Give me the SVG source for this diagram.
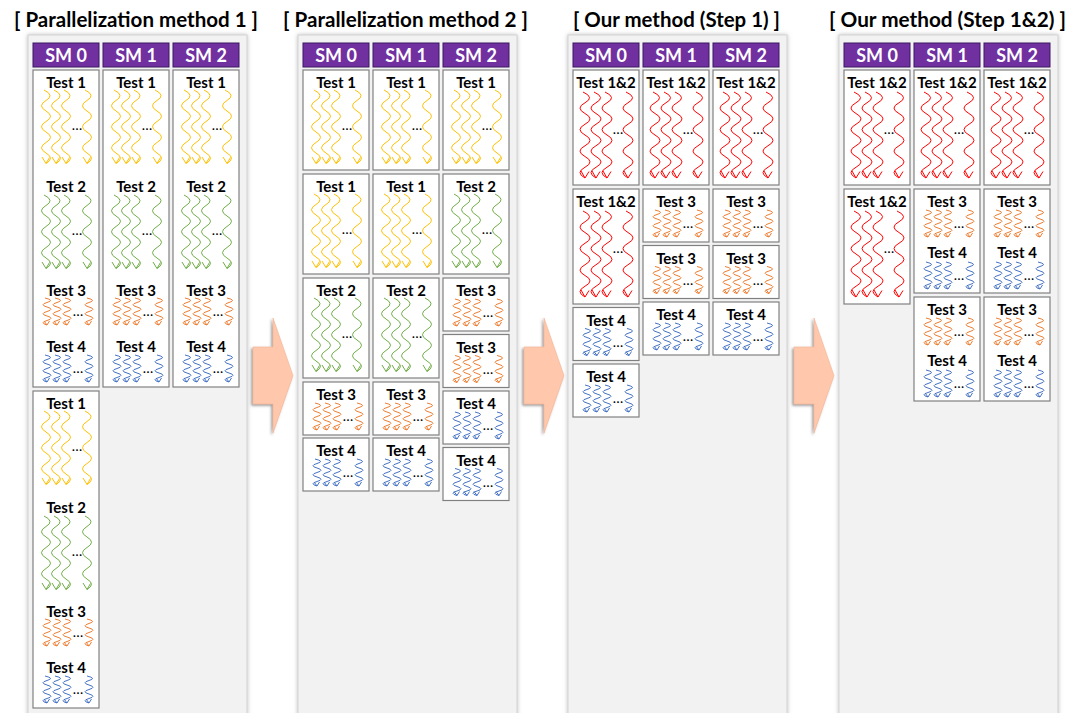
<svg xmlns="http://www.w3.org/2000/svg" xmlns:xlink="http://www.w3.org/1999/xlink" width="1083" height="713" viewBox="0 0 1083 713">
<style>
.panel{fill:#F2F2F2;stroke:#D3D3D3;stroke-width:1;filter:url(#psh)}
.sm{fill:#7030A0;stroke:#3A1660;stroke-width:1}
.smt{font-family:Lato,"Open Sans",sans-serif;font-weight:bold;font-size:18px;fill:#fff;text-anchor:middle}
.box{fill:#fff;stroke:#808080;stroke-width:1.2}
.lbl{font-family:Lato,"Open Sans",sans-serif;font-weight:bold;font-size:15px;fill:#000;text-anchor:middle}
.ttl{font-family:Lato,"Open Sans",sans-serif;font-weight:bold;font-size:21px;fill:#000;text-anchor:middle}
.dots{font-family:Lato,"Open Sans",sans-serif;font-size:14px;fill:#000;stroke:none;text-anchor:middle}
.y{stroke:#FFC000}.g{stroke:#70AD47}.o{stroke:#ED7D31}.b{stroke:#4472C4}.r{stroke:#FF0000}
.arrow{fill:#FFC8AC;stroke:#F2B494;stroke-width:0.6;filter:url(#ash)}
</style>
<defs>
<filter id="psh" x="-5%" y="-5%" width="110%" height="110%"><feDropShadow dx="0" dy="0" stdDeviation="2" flood-color="#9a9a9a" flood-opacity="0.6"/></filter>
<filter id="ash" x="-20%" y="-20%" width="140%" height="140%"><feDropShadow dx="-1.5" dy="1.5" stdDeviation="1" flood-color="#555" flood-opacity="0.6"/></filter>
<path id="lw" d="M-2,0 Q9,5.25 0,10.5 T0,21 T0,31.5 T0,42 T0,52.5 T0,63 T0,73.5 M-4,67 L0,73.5 L3.5,67.5"/>
<path id="rw" d="M-2,0 Q10,5.4 0,10.75 T0,21.5 T0,32.25 T0,43 T0,53.75 T0,64.5 T0,75.25 T0,86 M-4,79 L0,86 L4,79.5"/>
<path id="sw" d="M-2,0 Q8,2.25 0,4.5 T0,9 T0,13.5 T0,18 T0,22.5 T0,27 M-3,23 L0,27 L2.5,23"/>
<g id="L4" fill="none" stroke-width="1"><use href="#lw" x="13"/><use href="#lw" x="23"/><use href="#lw" x="33"/><use href="#lw" x="54"/><text class="dots" x="44" y="40">…</text></g>
<g id="R4" fill="none" stroke-width="1"><use href="#rw" x="12"/><use href="#rw" x="23"/><use href="#rw" x="34"/><use href="#rw" x="55"/><text class="dots" x="45" y="42">…</text></g>
<g id="S4" fill="none" stroke-width="1"><use href="#sw" x="14"/><use href="#sw" x="24"/><use href="#sw" x="34"/><use href="#sw" x="56"/><text class="dots" x="45" y="18">…</text></g>
</defs>
<rect width="1083" height="713" fill="#fff"/>

<g id="panels">
<rect class="panel" x="28" y="35" width="219" height="690"/>
<rect class="panel" x="298" y="35" width="219" height="690"/>
<rect class="panel" x="568" y="35" width="219" height="690"/>
<rect class="panel" x="839" y="35" width="219" height="690"/>
</g>

<g id="titles">
<text class="ttl" x="136" y="27" textLength="244" lengthAdjust="spacingAndGlyphs">[ Parallelization method 1 ]</text>
<text class="ttl" x="405.5" y="27" textLength="245" lengthAdjust="spacingAndGlyphs">[ Parallelization method 2 ]</text>
<text class="ttl" x="676.5" y="27" textLength="207" lengthAdjust="spacingAndGlyphs">[ Our method (Step 1) ]</text>
<text class="ttl" x="947.5" y="27" textLength="237" lengthAdjust="spacingAndGlyphs">[ Our method (Step 1&amp;2) ]</text>
</g>

<g id="sm-headers">
<g id="p1-sm0"><rect class="sm" x="33" y="43" width="66" height="24"/><text class="smt" x="66" y="61.5">SM 0</text></g>
<g id="p1-sm1"><rect class="sm" x="103" y="43" width="66" height="24"/><text class="smt" x="136" y="61.5">SM 1</text></g>
<g id="p1-sm2"><rect class="sm" x="173" y="43" width="66" height="24"/><text class="smt" x="206" y="61.5">SM 2</text></g>
<g id="p2-sm0"><rect class="sm" x="303" y="43" width="66" height="24"/><text class="smt" x="336" y="61.5">SM 0</text></g>
<g id="p2-sm1"><rect class="sm" x="373" y="43" width="66" height="24"/><text class="smt" x="406" y="61.5">SM 1</text></g>
<g id="p2-sm2"><rect class="sm" x="443" y="43" width="66" height="24"/><text class="smt" x="476" y="61.5">SM 2</text></g>
<g id="p3-sm0"><rect class="sm" x="573" y="43" width="66" height="24"/><text class="smt" x="606" y="61.5">SM 0</text></g>
<g id="p3-sm1"><rect class="sm" x="643" y="43" width="66" height="24"/><text class="smt" x="676" y="61.5">SM 1</text></g>
<g id="p3-sm2"><rect class="sm" x="713" y="43" width="66" height="24"/><text class="smt" x="746" y="61.5">SM 2</text></g>
<g id="p4-sm0"><rect class="sm" x="844" y="43" width="66" height="24"/><text class="smt" x="877" y="61.5">SM 0</text></g>
<g id="p4-sm1"><rect class="sm" x="914" y="43" width="66" height="24"/><text class="smt" x="947" y="61.5">SM 1</text></g>
<g id="p4-sm2"><rect class="sm" x="984" y="43" width="66" height="24"/><text class="smt" x="1017" y="61.5">SM 2</text></g>
</g>

<g id="p1-c0-b1">
<rect class="box" x="33" y="70" width="66" height="317"/>
<text class="lbl" x="66" y="88">Test 1</text><use href="#L4" x="33" y="90" class="y"/>
<text class="lbl" x="66" y="192">Test 2</text><use href="#L4" x="33" y="195" class="g"/>
<text class="lbl" x="66" y="296">Test 3</text><use href="#S4" x="33" y="298" class="o"/>
<text class="lbl" x="66" y="352">Test 4</text><use href="#S4" x="33" y="355" class="b"/>
</g>
<g id="p1-c0-b2">
<rect class="box" x="33" y="391" width="66" height="317"/>
<text class="lbl" x="66" y="409">Test 1</text><use href="#L4" x="33" y="411" class="y"/>
<text class="lbl" x="66" y="513">Test 2</text><use href="#L4" x="33" y="516" class="g"/>
<text class="lbl" x="66" y="617">Test 3</text><use href="#S4" x="33" y="619" class="o"/>
<text class="lbl" x="66" y="673">Test 4</text><use href="#S4" x="33" y="676" class="b"/>
</g>
<g id="p1-c1-b1">
<rect class="box" x="103" y="70" width="66" height="317"/>
<text class="lbl" x="136" y="88">Test 1</text><use href="#L4" x="103" y="90" class="y"/>
<text class="lbl" x="136" y="192">Test 2</text><use href="#L4" x="103" y="195" class="g"/>
<text class="lbl" x="136" y="296">Test 3</text><use href="#S4" x="103" y="298" class="o"/>
<text class="lbl" x="136" y="352">Test 4</text><use href="#S4" x="103" y="355" class="b"/>
</g>
<g id="p1-c2-b1">
<rect class="box" x="173" y="70" width="66" height="317"/>
<text class="lbl" x="206" y="88">Test 1</text><use href="#L4" x="173" y="90" class="y"/>
<text class="lbl" x="206" y="192">Test 2</text><use href="#L4" x="173" y="195" class="g"/>
<text class="lbl" x="206" y="296">Test 3</text><use href="#S4" x="173" y="298" class="o"/>
<text class="lbl" x="206" y="352">Test 4</text><use href="#S4" x="173" y="355" class="b"/>
</g>

<g id="p2-c0-t1a"><rect class="box" x="303" y="70" width="66" height="100"/><text class="lbl" x="336" y="88">Test 1</text><use href="#L4" x="303" y="90" class="y"/></g>
<g id="p2-c0-t1b"><rect class="box" x="303" y="174" width="66" height="100"/><text class="lbl" x="336" y="192">Test 1</text><use href="#L4" x="303" y="194" class="y"/></g>
<g id="p2-c0-t2"><rect class="box" x="303" y="278" width="66" height="100"/><text class="lbl" x="336" y="296">Test 2</text><use href="#L4" x="303" y="298" class="g"/></g>
<g id="p2-c0-t3"><rect class="box" x="303" y="382" width="66" height="53"/><text class="lbl" x="336" y="400">Test 3</text><use href="#S4" x="303" y="403" class="o"/></g>
<g id="p2-c0-t4"><rect class="box" x="303" y="438" width="66" height="53"/><text class="lbl" x="336" y="456">Test 4</text><use href="#S4" x="303" y="459" class="b"/></g>

<g id="p2-c1-t1a"><rect class="box" x="373" y="70" width="66" height="100"/><text class="lbl" x="406" y="88">Test 1</text><use href="#L4" x="373" y="90" class="y"/></g>
<g id="p2-c1-t1b"><rect class="box" x="373" y="174" width="66" height="100"/><text class="lbl" x="406" y="192">Test 1</text><use href="#L4" x="373" y="194" class="y"/></g>
<g id="p2-c1-t2"><rect class="box" x="373" y="278" width="66" height="100"/><text class="lbl" x="406" y="296">Test 2</text><use href="#L4" x="373" y="298" class="g"/></g>
<g id="p2-c1-t3"><rect class="box" x="373" y="382" width="66" height="53"/><text class="lbl" x="406" y="400">Test 3</text><use href="#S4" x="373" y="403" class="o"/></g>
<g id="p2-c1-t4"><rect class="box" x="373" y="438" width="66" height="53"/><text class="lbl" x="406" y="456">Test 4</text><use href="#S4" x="373" y="459" class="b"/></g>

<g id="p2-c2-t1"><rect class="box" x="443" y="70" width="66" height="100"/><text class="lbl" x="476" y="88">Test 1</text><use href="#L4" x="443" y="90" class="y"/></g>
<g id="p2-c2-t2"><rect class="box" x="443" y="174" width="66" height="100"/><text class="lbl" x="476" y="192">Test 2</text><use href="#L4" x="443" y="194" class="g"/></g>
<g id="p2-c2-t3a"><rect class="box" x="443" y="278" width="66" height="53"/><text class="lbl" x="476" y="296">Test 3</text><use href="#S4" x="443" y="299" class="o"/></g>
<g id="p2-c2-t3b"><rect class="box" x="443" y="334.5" width="66" height="53"/><text class="lbl" x="476" y="352.5">Test 3</text><use href="#S4" x="443" y="355.5" class="o"/></g>
<g id="p2-c2-t4a"><rect class="box" x="443" y="391" width="66" height="53"/><text class="lbl" x="476" y="409">Test 4</text><use href="#S4" x="443" y="412" class="b"/></g>
<g id="p2-c2-t4b"><rect class="box" x="443" y="447.5" width="66" height="53"/><text class="lbl" x="476" y="465.5">Test 4</text><use href="#S4" x="443" y="468.5" class="b"/></g>

<g id="p3-c0-t12a"><rect class="box" x="573" y="70" width="66" height="115"/><text class="lbl" x="606" y="88">Test 1&amp;2</text><use href="#R4" x="573" y="92" class="r"/></g>
<g id="p3-c0-t12b"><rect class="box" x="573" y="189" width="66" height="115"/><text class="lbl" x="606" y="207">Test 1&amp;2</text><use href="#R4" x="573" y="211" class="r"/></g>
<g id="p3-c0-t4a"><rect class="box" x="573" y="307.5" width="66" height="53"/><text class="lbl" x="606" y="325.5">Test 4</text><use href="#S4" x="573" y="328.5" class="b"/></g>
<g id="p3-c0-t4b"><rect class="box" x="573" y="364" width="66" height="53"/><text class="lbl" x="606" y="382">Test 4</text><use href="#S4" x="573" y="385" class="b"/></g>

<g id="p3-c1-t12"><rect class="box" x="643" y="70" width="66" height="115"/><text class="lbl" x="676" y="88">Test 1&amp;2</text><use href="#R4" x="643" y="92" class="r"/></g>
<g id="p3-c1-t3a"><rect class="box" x="643" y="189" width="66" height="53"/><text class="lbl" x="676" y="207">Test 3</text><use href="#S4" x="643" y="210" class="o"/></g>
<g id="p3-c1-t3b"><rect class="box" x="643" y="245.5" width="66" height="53"/><text class="lbl" x="676" y="263.5">Test 3</text><use href="#S4" x="643" y="266.5" class="o"/></g>
<g id="p3-c1-t4"><rect class="box" x="643" y="302" width="66" height="53"/><text class="lbl" x="676" y="320">Test 4</text><use href="#S4" x="643" y="323" class="b"/></g>

<g id="p3-c2-t12"><rect class="box" x="713" y="70" width="66" height="115"/><text class="lbl" x="746" y="88">Test 1&amp;2</text><use href="#R4" x="713" y="92" class="r"/></g>
<g id="p3-c2-t3a"><rect class="box" x="713" y="189" width="66" height="53"/><text class="lbl" x="746" y="207">Test 3</text><use href="#S4" x="713" y="210" class="o"/></g>
<g id="p3-c2-t3b"><rect class="box" x="713" y="245.5" width="66" height="53"/><text class="lbl" x="746" y="263.5">Test 3</text><use href="#S4" x="713" y="266.5" class="o"/></g>
<g id="p3-c2-t4"><rect class="box" x="713" y="302" width="66" height="53"/><text class="lbl" x="746" y="320">Test 4</text><use href="#S4" x="713" y="323" class="b"/></g>

<g id="p4-c0-t12a"><rect class="box" x="844" y="70" width="66" height="115"/><text class="lbl" x="877" y="88">Test 1&amp;2</text><use href="#R4" x="844" y="92" class="r"/></g>
<g id="p4-c0-t12b"><rect class="box" x="844" y="189" width="66" height="115"/><text class="lbl" x="877" y="207">Test 1&amp;2</text><use href="#R4" x="844" y="211" class="r"/></g>

<g id="p4-c1-t12"><rect class="box" x="914" y="70" width="66" height="115"/><text class="lbl" x="947" y="88">Test 1&amp;2</text><use href="#R4" x="914" y="92" class="r"/></g>
<g id="p4-c1-t34a"><rect class="box" x="914" y="189" width="66" height="104"/><text class="lbl" x="947" y="207">Test 3</text><use href="#S4" x="914" y="210" class="o"/><text class="lbl" x="947" y="258">Test 4</text><use href="#S4" x="914" y="262" class="b"/></g>
<g id="p4-c1-t34b"><rect class="box" x="914" y="297" width="66" height="104"/><text class="lbl" x="947" y="315">Test 3</text><use href="#S4" x="914" y="318" class="o"/><text class="lbl" x="947" y="366">Test 4</text><use href="#S4" x="914" y="370" class="b"/></g>

<g id="p4-c2-t12"><rect class="box" x="984" y="70" width="66" height="115"/><text class="lbl" x="1017" y="88">Test 1&amp;2</text><use href="#R4" x="984" y="92" class="r"/></g>
<g id="p4-c2-t34a"><rect class="box" x="984" y="189" width="66" height="104"/><text class="lbl" x="1017" y="207">Test 3</text><use href="#S4" x="984" y="210" class="o"/><text class="lbl" x="1017" y="258">Test 4</text><use href="#S4" x="984" y="262" class="b"/></g>
<g id="p4-c2-t34b"><rect class="box" x="984" y="297" width="66" height="104"/><text class="lbl" x="1017" y="315">Test 3</text><use href="#S4" x="984" y="318" class="o"/><text class="lbl" x="1017" y="366">Test 4</text><use href="#S4" x="984" y="370" class="b"/></g>

<g id="connectors">
<polygon class="arrow" points="253,347 273,347 273,318 293,375.5 273,433 273,404 253,404"/>
<polygon class="arrow" points="524,347 544,347 544,318 564,375.5 544,433 544,404 524,404"/>
<polygon class="arrow" points="794,347 814,347 814,318 834,375.5 814,433 814,404 794,404"/>
</g>
</svg>
